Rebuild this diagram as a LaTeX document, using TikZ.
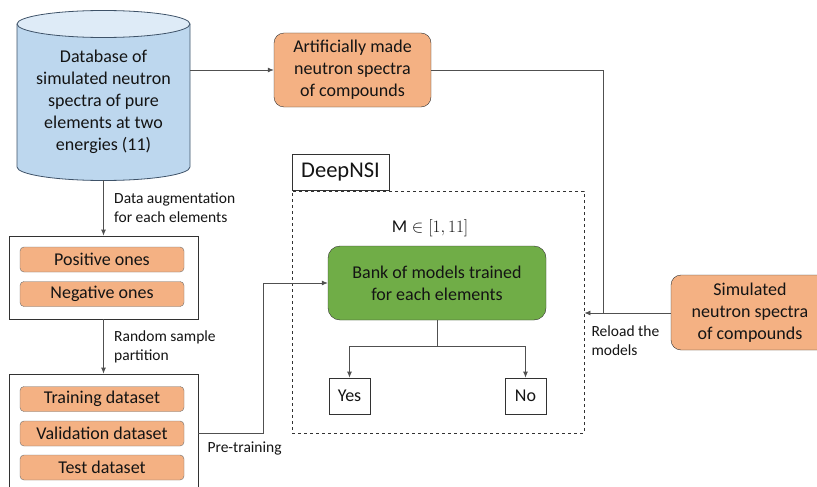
\documentclass[tikz,border=0pt]{standalone}
\usepackage{fontspec}
\setmainfont{Carlito}
\usepackage{tikz}
\usetikzlibrary{arrows.meta, positioning, calc}
\definecolor{dbblue}{RGB}{189,215,238}
\definecolor{dbtop}{RGB}{222,235,247}
\definecolor{dbline}{RGB}{62,82,104}
\definecolor{specorange}{RGB}{244,177,131}
\definecolor{bankgreen}{RGB}{112,173,71}
\definecolor{edgedark}{RGB}{50,50,50}
\definecolor{edgegray}{RGB}{110,110,110}
\definecolor{linegray}{RGB}{80,80,80}
\definecolor{textdark}{RGB}{20,20,20}
\newcommand\boxfont{\fontsize{18}{22}\selectfont}
\newcommand\notefont{\fontsize{15.5}{19}\selectfont}

\begin{document}
\begin{tikzpicture}[
    x=1pt, y=-1pt,
    spec/.style={draw=edgedark, fill=specorange, rounded corners=10pt, align=center, font=\boxfont, text=textdark},
    item/.style={draw=edgegray, fill=specorange, rounded corners=4pt, minimum width=164, minimum height=25, inner sep=0pt, font=\boxfont, text=textdark},
    group/.style={draw=edgedark, line width=0.8pt, minimum width=189},
    answer/.style={draw=edgedark, line width=0.8pt, minimum width=41, minimum height=36, inner sep=0pt, font=\boxfont, text=textdark},
    note/.style={anchor=west, align=left, font=\notefont, text=textdark},
    line/.style={draw=linegray, line width=0.8pt},
    arr/.style={line, -{Latex[length=6pt, width=5pt]}}
]
    \clip (0,0) rectangle (817,487);

    % Database cylinder
    \fill[dbblue] (17,24) -- (17,167) arc[start angle=180, end angle=0, x radius=86.5, y radius=13.5] -- (190,24) -- cycle;
    \draw[dbline, line width=0.8pt] (17,24) -- (17,167) arc[start angle=180, end angle=0, x radius=86.5, y radius=13.5] -- (190,24);
    \draw[dbline, line width=0.8pt, fill=dbtop] (103.5,24) ellipse[x radius=86.5, y radius=13.5];
    \node[minimum width=173, minimum height=156, align=center, font=\boxfont, text=textdark] (db) at (103.5,102) {Database of\\simulated neutron\\spectra of pure\\elements at two\\energies (11)};

    % Compound spectra
    \node[spec, minimum width=157, minimum height=74] (art) at (352.5,70) {Artificially made\\neutron spectra\\of compounds};
    \node[spec, minimum width=158, minimum height=75] (sim) at (750,312.5) {Simulated\\neutron spectra\\of compounds};

    % Datasets
    \node[group, minimum height=83] (aug) at (103.5,277.5) {};
    \node[item] (pos) at (102,259.5) {Positive ones};
    \node[item] (neg) at (102,294) {Negative ones};
    \node[group, minimum height=160] (split) at (103.5,454) {};
    \node[item] (train) at (102,399) {Training dataset};
    \node[item] (valid) at (102,433.5) {Validation dataset};
    \node[item] (test) at (102,467.5) {Test dataset};

    % DeepNSI
    \node[draw=edgedark, dashed, line width=0.8pt, minimum width=292, minimum height=242] (deep) at (438,312) {};
    \node[draw=edgedark, line width=0.8pt, anchor=south west, minimum width=97, minimum height=36, font=\fontsize{22.5}{26}\selectfont, text=textdark] (tag) at (deep.north west) {DeepNSI};
    \node[draw=edgedark, fill=bankgreen, rounded corners=12pt, minimum width=218, minimum height=74, align=center, font=\boxfont, text=textdark] (bank) at (437,283) {Bank of models trained\\for each elements};
    \node[font=\boxfont, text=textdark] (range) at (430,228) {$\mathrm{M}\in[1,11]$};
    \node[answer] (yes) at (349.5,396) {Yes};
    \node[answer] (no) at (525.5,396) {No};

    % Connections
    \draw[arr] (db.east |- art.west) -- (art.west);
    \draw[arr] (db.south) -- node[note, pos=0.5, xshift=7pt] {Data augmentation\\for each elements} (aug.north);
    \draw[arr] (aug.south) -- node[note, pos=0.5, xshift=7pt] {Random sample\\partition} (split.north);
    \draw[arr] (split.east |- valid.east) -- ++(65,0) |- (bank.west);
    \node[note] (pre) at (204,448) {Pre-training};
    \draw[line] (art.east) -- (603,70) -- (603,313) coordinate (join);
    \draw[arr] (sim.west |- join) -- (deep.east |- join);
    \node[note] (reload) at (588,341) {Reload the\\models};
    \draw[line] (bank.south) -- ++(0,26) coordinate (fork);
    \draw[arr] (fork) -| (yes.north);
    \draw[arr] (fork) -| (no.north);
\end{tikzpicture}
\end{document}
